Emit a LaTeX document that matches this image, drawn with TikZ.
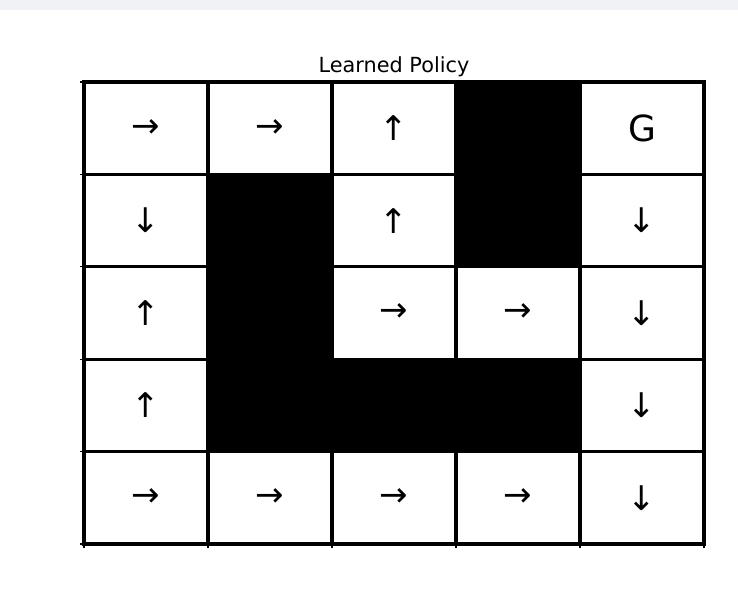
\documentclass[tikz,border=0pt]{standalone}
\usepackage{fontspec}
\setmainfont{DejaVu Sans}
\definecolor{strip}{RGB}{240,242,246}
\begin{document}
\begin{tikzpicture}[x=1pt,y=-1pt,
  cell/.style={draw=black, line width=3.2pt, minimum width=124pt, minimum height=92.4pt,
    inner sep=0pt, outer sep=0pt, anchor=center, font=\fontsize{34}{34}\selectfont},
  wall/.style={cell, fill=black},
  goal/.style={cell, font=\fontsize{36}{36}\selectfont},
  tick/.style={line width=1.2pt}]
\useasboundingbox (0,0) rectangle (738,602);
\fill[strip] (0,0) rectangle (738,10);
\node[font=\fontsize{20.8}{20.8}\selectfont] (title) at (394,66.5) {Learned Policy};
% row 0
\node[cell] (c00) at (146,128.2) {→};
\node[cell] (c01) at (270,128.2) {→};
\node[cell] (c02) at (394,128.2) {↑};
\node[wall] (c03) at (518,128.2) {};
\node[goal] (c04) at (642,128.2) {G};
% row 1
\node[cell] (c10) at (146,220.6) {↓};
\node[wall] (c11) at (270,220.6) {};
\node[cell] (c12) at (394,220.6) {↑};
\node[wall] (c13) at (518,220.6) {};
\node[cell] (c14) at (642,220.6) {↓};
% row 2
\node[cell] (c20) at (146,313) {↑};
\node[wall] (c21) at (270,313) {};
\node[cell] (c22) at (394,313) {→};
\node[cell] (c23) at (518,313) {→};
\node[cell] (c24) at (642,313) {↓};
% row 3
\node[cell] (c30) at (146,405.4) {↑};
\node[wall] (c31) at (270,405.4) {};
\node[wall] (c32) at (394,405.4) {};
\node[wall] (c33) at (518,405.4) {};
\node[cell] (c34) at (642,405.4) {↓};
% row 4
\node[cell] (c40) at (146,497.8) {→};
\node[cell] (c41) at (270,497.8) {→};
\node[cell] (c42) at (394,497.8) {→};
\node[cell] (c43) at (518,497.8) {→};
\node[cell] (c44) at (642,497.8) {↓};
% ticks
\foreach \y in {82,174.4,266.8,359.2,451.6,544} \draw[tick] (84,\y) -- (80,\y);
\foreach \x in {84,208,332,456,580,704} \draw[tick] (\x,544) -- (\x,548);
\end{tikzpicture}
\end{document}
